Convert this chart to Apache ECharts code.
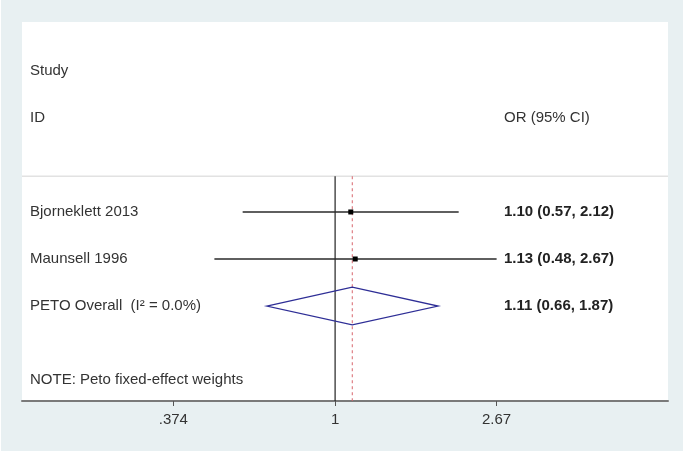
<!DOCTYPE html>
<html>
<head>
<meta charset="utf-8">
<script src="https://cdn.jsdelivr.net/npm/echarts@6/dist/echarts.min.js"></script>
<style>
html, body { margin: 0; padding: 0; background: #fff; }
#chart { width: 685px; height: 453px; }
</style>
</head>
<body>
<div id="chart"></div>
<script>
// forest plot data (odds ratios)
const studies = ['Bjorneklett 2013', 'Maunsell 1996'];
const oddsRatios = [1.10, 1.13];
const ciLower = [0.57, 0.48];
const ciUpper = [2.12, 2.67];
const overallName = 'PETO Overall  (I² = 0.0%)';
const overall = [1.11, 0.66, 1.87]; // OR, lower, upper
const tickValues = [0.374, 1, 2.67];
const tickLabels = ['.374', '1', '2.67'];
const axisRange = [0.149, 7.57];
const headers = ['Study', 'ID', 'OR (95% CI)'];
const note = 'NOTE: Peto fixed-effect weights';

const FONT = '"Liberation Sans", Arial, sans-serif';
const firstRow = 4;
const overallRow = firstRow + studies.length;
const sepRow = 3.24;
const noteRow = 7.56;
const yRange = [-0.04, 8.02];

const fmt = v => v.toFixed(2);
const ciText = (or, lo, hi) => fmt(or) + ' (' + fmt(lo) + ', ' + fmt(hi) + ')';

const tableText = [
    { text: headers[0], row: 1, col: 0 },
    { text: headers[1], row: 2, col: 0 },
    { text: headers[2], row: 2, col: 1 },
    { text: note, row: noteRow, col: 0 },
    { text: overallName, row: overallRow, col: 0 },
    { text: ciText(overall[0], overall[1], overall[2]), row: overallRow, col: 1, bold: true }
];
studies.forEach((s, i) => {
    tableText.push({ text: s, row: firstRow + i, col: 0 });
    tableText.push({ text: ciText(oddsRatios[i], ciLower[i], ciUpper[i]), row: firstRow + i, col: 1, bold: true });
});

const chart = echarts.init(document.getElementById('chart'));

const option = {
    backgroundColor: '#ffffff',
    animation: false,
    graphic: [{
        type: 'rect', z: -10, silent: true,
        shape: { x: 1, y: 0, width: 682, height: 451 },
        style: { fill: '#e8f0f2' }
    }],
    grid: {
        left: 22, right: 17, top: 22, bottom: 52,
        show: true, backgroundColor: '#ffffff', borderWidth: 0
    },
    xAxis: {
        type: 'value',
        min: Math.log(axisRange[0]),
        max: Math.log(axisRange[1]),
        splitLine: { show: false },
        axisLine: { show: true, onZero: false, lineStyle: { color: '#7a7a7a', width: 2 } },
        axisTick: {
            show: true, length: 5,
            customValues: tickValues.map(Math.log),
            lineStyle: { color: '#555' }
        },
        axisLabel: {
            customValues: tickValues.map(Math.log),
            margin: 11, fontSize: 15, color: '#333', fontFamily: FONT,
            formatter: function (value) {
                for (let i = 0; i < tickValues.length; i++) {
                    if (Math.abs(Math.log(tickValues[i]) - value) < 1e-6) return tickLabels[i];
                }
                return '';
            }
        }
    },
    yAxis: {
        type: 'value', inverse: true, show: false,
        min: yRange[0], max: yRange[1]
    },
    series: [
        {
            // header separator + reference lines (null and overall)
            type: 'custom',
            data: [[0, sepRow]],
            renderItem: function (params, api) {
                const cs = params.coordSys;
                const sepY = api.coord([0, sepRow])[1];
                const bottomY = api.coord([0, yRange[1]])[1];
                const nullX = api.coord([0, 0])[0];
                const ovX = api.coord([Math.log(overall[0]), 0])[0];
                return {
                    type: 'group',
                    children: [
                        { type: 'line', shape: { x1: cs.x, y1: sepY, x2: cs.x + cs.width, y2: sepY },
                          style: { stroke: '#e2e2e2', lineWidth: 1.5 } },
                        { type: 'line', shape: { x1: nullX, y1: sepY, x2: nullX, y2: bottomY },
                          style: { stroke: '#222', lineWidth: 1.2 } },
                        { type: 'line', shape: { x1: ovX, y1: sepY, x2: ovX, y2: bottomY },
                          style: { stroke: '#d9656d', lineWidth: 1, lineDash: [3, 3] } }
                    ]
                };
            }
        },
        {
            // study CIs with point estimate
            type: 'custom',
            encode: { x: [0, 1, 2], y: 3 },
            data: studies.map((s, i) => [Math.log(ciLower[i]), Math.log(ciUpper[i]), Math.log(oddsRatios[i]), firstRow + i]),
            renderItem: function (params, api) {
                const lo = api.coord([api.value(0), api.value(3)]);
                const hi = api.coord([api.value(1), api.value(3)]);
                const mid = api.coord([api.value(2), api.value(3)]);
                return {
                    type: 'group',
                    children: [
                        { type: 'line', shape: { x1: lo[0], y1: lo[1], x2: hi[0], y2: hi[1] },
                          style: { stroke: '#2a2a2a', lineWidth: 1.5 } },
                        { type: 'rect', shape: { x: mid[0] - 2.5, y: mid[1] - 2.5, width: 5, height: 5 },
                          style: { fill: '#000' } }
                    ]
                };
            }
        },
        {
            // overall diamond
            type: 'custom',
            encode: { x: [0, 1, 2], y: 3 },
            data: [[Math.log(overall[1]), Math.log(overall[2]), Math.log(overall[0]), overallRow]],
            renderItem: function (params, api) {
                const r = api.value(3);
                const left = api.coord([api.value(0), r]);
                const right = api.coord([api.value(1), r]);
                const top = api.coord([api.value(2), r - 0.4]);
                const bot = api.coord([api.value(2), r + 0.4]);
                return {
                    type: 'polygon',
                    shape: { points: [left, top, right, bot] },
                    style: { fill: 'none', stroke: '#2e2e96', lineWidth: 1.3 }
                };
            }
        },
        {
            // table text
            type: 'custom',
            data: tableText.map(t => [0, t.row]),
            renderItem: function (params, api) {
                const t = tableText[params.dataIndex];
                const cs = params.coordSys;
                const y = api.coord([0, t.row])[1];
                return {
                    type: 'text',
                    x: cs.x + (t.col === 0 ? 8 : 482),
                    y: y,
                    style: {
                        text: t.text,
                        fill: t.bold ? '#222' : '#333',
                        font: (t.bold ? 'bold ' : '') + '15px ' + FONT,
                        textAlign: 'left',
                        textVerticalAlign: 'middle'
                    }
                };
            }
        }
    ]
};

chart.setOption(option);
</script>
</body>
</html>
